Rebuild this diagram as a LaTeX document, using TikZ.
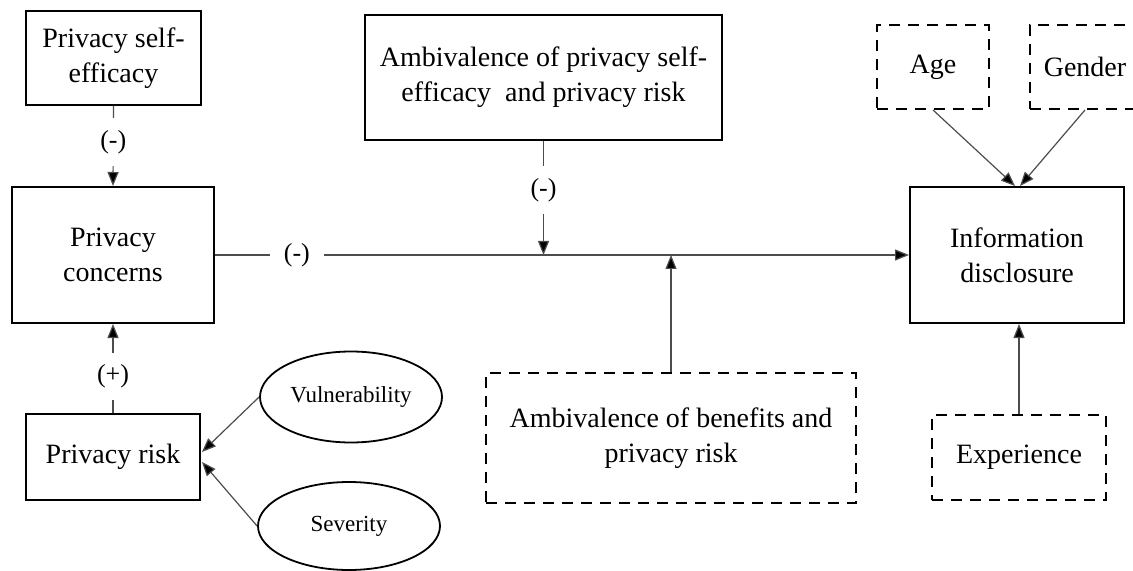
\documentclass[tikz,border=0pt]{standalone}
\usepackage{fontspec}
\setmainfont{Liberation Serif}
\usetikzlibrary{arrows.meta,shapes.geometric,calc}
\begin{document}
\begin{tikzpicture}[x=0.5pt,y=-0.5pt,
  box/.style={draw=black,line width=1pt,align=center,inner sep=0pt,
    font=\fontsize{14}{17.5}\selectfont},
  solidbox/.style={box},
  dashbox/.style={box,dash pattern=on 5.5pt off 4pt},
  oval/.style={ellipse,draw=black,line width=0.9pt,inner sep=0pt,
    font=\fontsize{11.5}{14}\selectfont},
  conn/.style={draw=black!70,line width=0.6pt,
    -{Triangle[length=7pt,width=5.5pt,fill=black]}},
  sign/.style={fill=white,inner xsep=3pt,inner ysep=6pt,
    font=\fontsize{13}{14}\selectfont}]
\useasboundingbox (0,0) rectangle (1133,571);

% left column
\node[solidbox,minimum width=175*0.5pt,minimum height=94*0.5pt] (pse) at (113.5,58)
  {Privacy self-\\efficacy};
\node[solidbox,minimum width=202*0.5pt,minimum height=136*0.5pt] (pc) at (113,255)
  {Privacy\\concerns};
\node[solidbox,minimum width=174*0.5pt,minimum height=86*0.5pt] (pr) at (113,457)
  {Privacy risk};
\node[oval,minimum width=182*0.5pt,minimum height=91*0.5pt] (vul) at (351,397)
  {Vulnerability};
\node[oval,minimum width=182*0.5pt,minimum height=88*0.5pt] (sev) at (349,526)
  {Severity};

% moderators
\node[solidbox,minimum width=357*0.5pt,minimum height=125*0.5pt] (aps) at (543.5,77.5)
  {Ambivalence of privacy self-\\efficacy~ and privacy risk};
\node[dashbox,minimum width=370*0.5pt,minimum height=130*0.5pt] (abr) at (671,438)
  {Ambivalence of benefits and\\privacy risk};

% outcome and controls
\node[solidbox,minimum width=214*0.5pt,minimum height=136*0.5pt] (info) at (1017,255)
  {Information\\disclosure};
\node[dashbox,minimum width=112*0.5pt,minimum height=84*0.5pt] (age) at (933,67) {Age};
\node[dashbox,minimum width=110*0.5pt,minimum height=84*0.5pt] (gen) at (1085,67) {Gender};
\node[dashbox,minimum width=174*0.5pt,minimum height=85*0.5pt] (exp) at (1019,457.5)
  {Experience};

% connectors
\draw[conn] (pse.south) -- node[sign,pos=0.45] {(-)} (pc.north);
\draw[conn] (pr.north) -- node[sign,pos=0.41] {(+)} (pc.south);
\draw[conn] (vul.west) -- ($(pr.east)+(1,-5)$);
\draw[conn] (sev.west) -- ($(pr.east)+(1,5)$);

\coordinate (jd) at (aps.south |- pc.east);
\coordinate (ju) at (abr.north |- pc.east);
\draw[conn] (pc.east) -- node[sign,pos=0.118,inner xsep=7pt] {(-)} (info.west |- pc.east);
\draw[conn] (aps.south) -- node[sign,pos=0.43] {(-)} (jd);
\draw[conn] (abr.north) -- (ju);

\draw[conn] (age.south) -- ($(info.north)+(-2,0)$);
\draw[conn] (gen.south) -- ($(info.north)+(3,0)$);
\draw[conn] (exp.north) -- (exp.north |- info.south);
\end{tikzpicture}
\end{document}
